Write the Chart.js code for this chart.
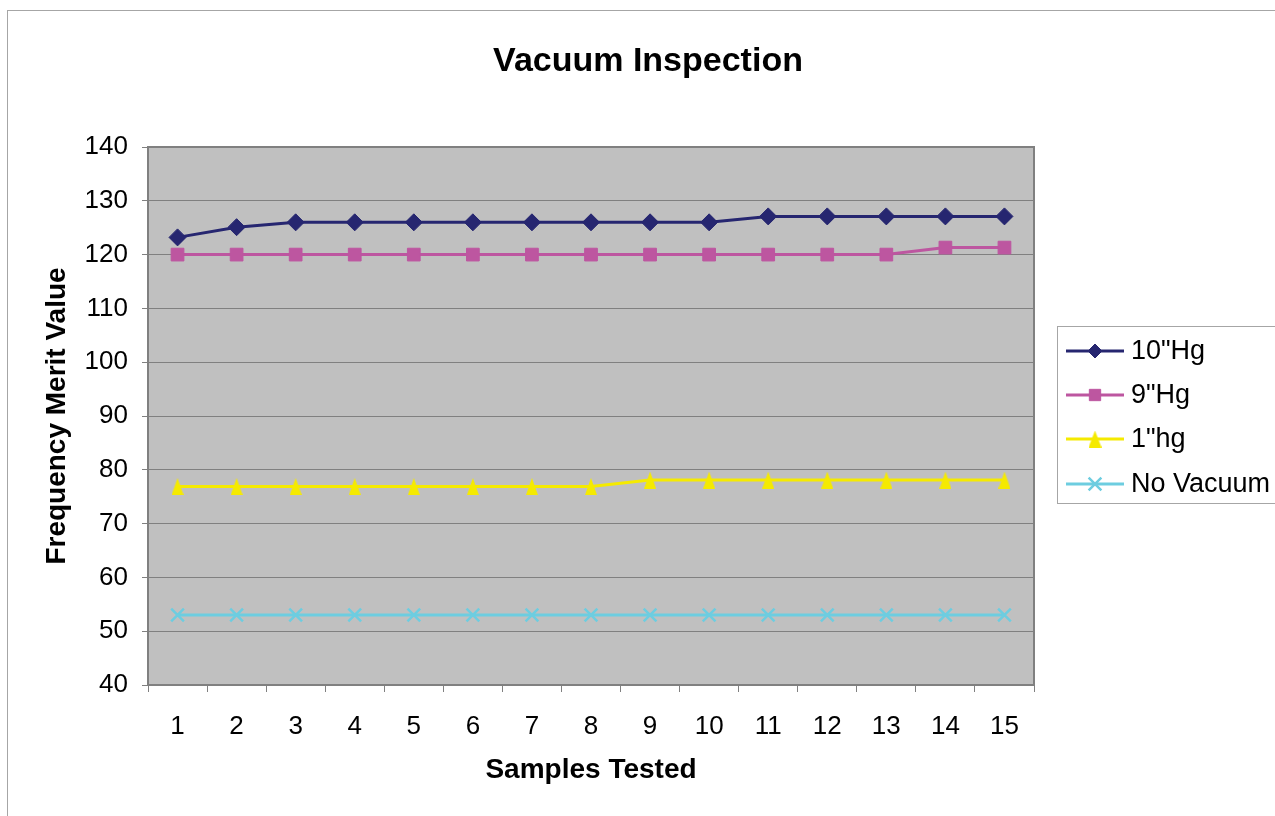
<!DOCTYPE html>
<html>
<head>
<meta charset="utf-8">
<title>Vacuum Inspection</title>
<script src="https://cdn.jsdelivr.net/npm/chart.js@4/dist/chart.umd.min.js"></script>
<style>
    html, body { margin: 0; padding: 0; background: #ffffff; }
    #wrap { width: 1275px; height: 816px; }
</style>
</head>
<body>
<div id="wrap"><canvas id="vacuumChart" width="1275" height="816"></canvas></div>
<script>
// =========================================================
// Chart data
// =========================================================
const samples = ['1', '2', '3', '4', '5', '6', '7', '8', '9', '10', '11', '12', '13', '14', '15'];
const hg10 = [123.2, 125.1, 126, 126, 126, 126, 126, 126, 126, 126, 127.1, 127.1, 127.1, 127.1, 127.1];
const hg9 = [120, 120, 120, 120, 120, 120, 120, 120, 120, 120, 120, 120, 120, 121.3, 121.3];
const hg1 = [76.9, 76.9, 76.9, 76.9, 76.9, 76.9, 76.9, 76.9, 78.1, 78.1, 78.1, 78.1, 78.1, 78.1, 78.1];
const noVacuum = [53, 53, 53, 53, 53, 53, 53, 53, 53, 53, 53, 53, 53, 53, 53];
const seriesNames = ['10"Hg', '9"Hg', '1"hg', 'No Vacuum'];
const yTicks = [40, 50, 60, 70, 80, 90, 100, 110, 120, 130, 140];

const FONT = "'Liberation Sans', Arial, sans-serif";

// narrow triangle marker like the spreadsheet one
function makeTriangle(color, w, h) {
    const c = document.createElement('canvas');
    c.width = w;
    c.height = h;
    const g = c.getContext('2d');
    g.fillStyle = color;
    g.beginPath();
    g.moveTo(w / 2, 0);
    g.lineTo(w, h);
    g.lineTo(0, h);
    g.closePath();
    g.fill();
    return c;
}

const triBig = makeTriangle('#f5ea00', 12, 17);
const triSmall = makeTriangle('#f5ea00', 13, 17);

// =========================================================
// Plugin: frame, plot background, border, title and legend
// =========================================================
const decorations = {
    id: 'decorations',
    beforeDraw(chart) {
        const ctx = chart.ctx;
        const a = chart.chartArea;
        ctx.save();
        ctx.fillStyle = '#ffffff';
        ctx.fillRect(0, 0, chart.width, chart.height);
        ctx.strokeStyle = '#a6a6a6';
        ctx.lineWidth = 1;
        ctx.strokeRect(7.5, 10.5, 1400, 1000);
        ctx.fillStyle = '#c0c0c0';
        ctx.fillRect(a.left, a.top, a.right - a.left, a.bottom - a.top);
        ctx.restore();
    },
    beforeDatasetsDraw(chart) {
        const ctx = chart.ctx;
        const a = chart.chartArea;
        ctx.save();
        ctx.strokeStyle = '#808080';
        ctx.lineWidth = 2;
        ctx.strokeRect(a.left, a.top, a.right - a.left, a.bottom - a.top);
        ctx.restore();
    },
    afterDraw(chart) {
        const ctx = chart.ctx;
        ctx.save();

        // title
        ctx.fillStyle = '#000000';
        ctx.font = 'bold 34px ' + FONT;
        ctx.textAlign = 'center';
        ctx.textBaseline = 'middle';
        ctx.fillText('Vacuum Inspection', 648, 62);

        // legend box
        ctx.strokeStyle = '#a6a6a6';
        ctx.lineWidth = 1;
        ctx.strokeRect(1057.5, 326.5, 300, 177);

        const rows = [351, 395, 439, 484];
        chart.data.datasets.forEach((ds, i) => {
            const y = rows[i];
            ctx.strokeStyle = ds.borderColor;
            ctx.lineWidth = 3;
            ctx.beginPath();
            ctx.moveTo(1066, y);
            ctx.lineTo(1124, y);
            ctx.stroke();

            const style = i === 2 ? triSmall : ds.pointStyle;
            ctx.fillStyle = ds.pointBackgroundColor;
            ctx.strokeStyle = ds.pointBorderColor;
            ctx.lineWidth = ds.pointBorderWidth;
            Chart.helpers.drawPoint(ctx, {
                pointStyle: style,
                radius: ds.legendRadius,
                borderWidth: ds.pointBorderWidth,
                rotation: 0
            }, 1095, y);

            ctx.fillStyle = '#000000';
            ctx.font = '27px ' + FONT;
            ctx.textAlign = 'left';
            ctx.textBaseline = 'middle';
            ctx.fillText(ds.label, 1131, y + 1);
        });
        ctx.restore();
    }
};

// =========================================================
// Chart
// =========================================================
const ctx = document.getElementById('vacuumChart');

new Chart(ctx, {
    type: 'line',
    data: {
        labels: samples,
        datasets: [
            {
                label: seriesNames[0],
                data: hg10,
                borderColor: '#262670',
                borderWidth: 3,
                pointStyle: 'rectRot',
                pointRadius: 8.5,
                legendRadius: 7,
                pointBackgroundColor: '#262670',
                pointBorderColor: '#262670',
                pointBorderWidth: 1
            },
            {
                label: seriesNames[1],
                data: hg9,
                borderColor: '#bd56a0',
                borderWidth: 3,
                pointStyle: 'rect',
                pointRadius: 9,
                legendRadius: 8,
                pointBackgroundColor: '#bd56a0',
                pointBorderColor: '#bd56a0',
                pointBorderWidth: 1
            },
            {
                label: seriesNames[2],
                data: hg1,
                borderColor: '#f5ea00',
                borderWidth: 3,
                pointStyle: triBig,
                pointRadius: 8,
                legendRadius: 8,
                pointBackgroundColor: '#f5ea00',
                pointBorderColor: '#f5ea00',
                pointBorderWidth: 1
            },
            {
                label: seriesNames[3],
                data: noVacuum,
                borderColor: '#6dcde0',
                borderWidth: 3,
                pointStyle: 'crossRot',
                pointRadius: 9,
                legendRadius: 9,
                pointBackgroundColor: '#6dcde0',
                pointBorderColor: '#6dcde0',
                pointBorderWidth: 2.5
            }
        ]
    },
    options: {
        responsive: false,
        animation: false,
        events: [],
        tension: 0,
        layout: {
            padding: { left: 0, right: 241, top: 147, bottom: 0 }
        },
        plugins: {
            legend: { display: false },
            title: { display: false },
            tooltip: { enabled: false }
        },
        scales: {
            x: {
                type: 'category',
                offset: true,
                afterFit(scale) { scale.height = 131; },
                grid: {
                    offset: true,
                    drawOnChartArea: false,
                    drawTicks: true,
                    tickLength: 7,
                    color: '#808080'
                },
                border: { display: false },
                ticks: {
                    color: '#000000',
                    padding: 19,
                    maxRotation: 0,
                    font: { family: FONT, size: 26 }
                },
                title: {
                    display: true,
                    text: 'Samples Tested',
                    color: '#000000',
                    font: { family: FONT, size: 28, weight: 'bold' },
                    padding: { top: 0, bottom: 29 }
                }
            },
            y: {
                min: 40,
                max: 140,
                afterFit(scale) { scale.width = 148; },
                afterBuildTicks(scale) {
                    scale.ticks = yTicks.map(v => ({ value: v }));
                },
                grid: {
                    color: '#808080',
                    lineWidth: 1,
                    drawTicks: true,
                    tickLength: 6
                },
                border: { display: false },
                ticks: {
                    color: '#000000',
                    padding: 14,
                    font: { family: FONT, size: 26 }
                },
                title: {
                    display: true,
                    text: 'Frequency Merit Value',
                    color: '#000000',
                    font: { family: FONT, size: 28, weight: 'bold' },
                    padding: { top: 40, bottom: 0 }
                }
            }
        }
    },
    plugins: [decorations]
});
</script>
</body>
</html>
